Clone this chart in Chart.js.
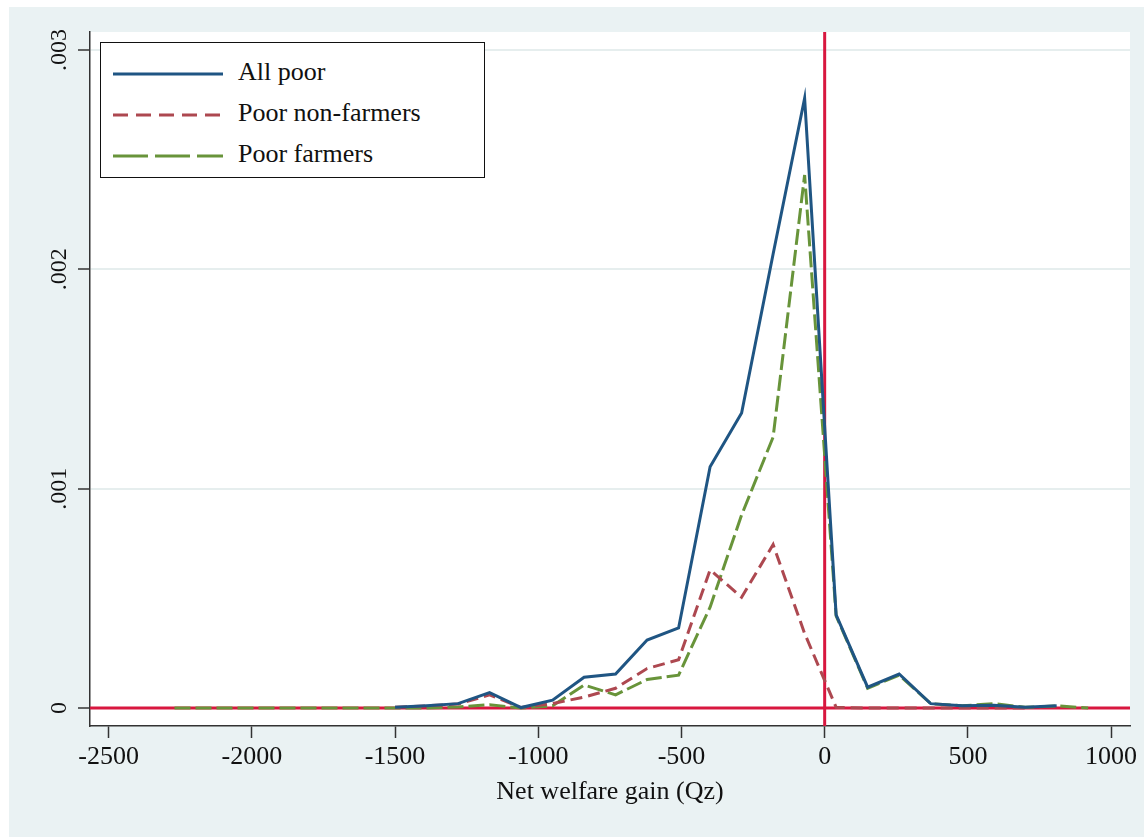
<!DOCTYPE html>
<html>
<head>
<meta charset="utf-8">
<script src="https://cdn.jsdelivr.net/npm/chart.js@4.4.1/dist/chart.umd.min.js"></script>
<style>
  html, body { margin: 0; padding: 0; background: #fff; }
  body { width: 1144px; height: 837px; position: relative; overflow: hidden;
         font-family: "Liberation Serif", "Times New Roman", serif; }
  #panel { position: absolute; left: 9px; top: 7px; width: 1135px; height: 830px; background: #eaf2f3; }
  #chart { position: absolute; left: 0; top: 0; }
  #legend { position: absolute; left: 100px; top: 42px; width: 385px; height: 136px;
            box-sizing: border-box; border: 1.5px solid #111; background: #fff; }
  .row { position: absolute; left: 0; height: 40px; width: 100%; }
  .row svg { position: absolute; left: 12px; top: 17px; }
  .row span { position: absolute; left: 137px; top: 3px; font-size: 26px; color: #111; line-height: 30px; white-space: nowrap; }
</style>
</head>
<body>
<div id="panel"></div>
<canvas id="chart" width="1144" height="837"></canvas>
<div id="legend"></div>
<script>
// kernel grid (Qz) and densities
const gridX = [-2270, -2160, -2050, -1940, -1830, -1720, -1610, -1500, -1390, -1280,
               -1170, -1060, -950, -840, -730, -620, -510, -400, -290, -180,
               -70, 40, 150, 260, 370, 480, 590, 700, 810, 920];

const allPoor = [null, null, null, null, null, null, null, 0.000003, 0.00001, 0.00002,
                 0.00007, 0.000002, 0.000036, 0.00014, 0.000155, 0.00031, 0.000365, 0.0011, 0.001345, 0.00207,
                 0.00278, 0.000425, 0.000095, 0.000155, 0.00002, 0.00001, 0.000013, 0.000003, 0.00001, null];

const poorNonFarmers = [null, null, null, null, null, null, null, 0.000003, 0.00001, 0.000018,
                        0.00006, 0.000002, 0.00002, 0.00005, 0.00009, 0.00018, 0.00022, 0.00063, 0.000505, 0.000745,
                        0.00034, 0.000003, 0, 0, 0, 0, 0, 0, null, null];

const poorFarmers = [0, 0, 0, 0, 0, 0, 0, 0, 0, 0.000005,
                     0.000015, 0, 0.00001, 0.000105, 0.00006, 0.00013, 0.00015, 0.00046, 0.00088, 0.001235,
                     0.00243, 0.00042, 0.00009, 0.00015, 0.00002, 0.00001, 0.00002, 0.000003, 0.00001, 0];

const seriesLabels = ['All poor', 'Poor non-farmers', 'Poor farmers'];

const xTicks = [-2500, -2000, -1500, -1000, -500, 0, 500, 1000];
const yTicks = [0, 0.001, 0.002, 0.003];
const yTickLabels = ['0', '.001', '.002', '.003'];
const xTitle = 'Net welfare gain (Qz)';

const xRefLines = [0];
const yRefLines = [0];

const xMin = -2565, xMax = 1066;
const yMin = -0.000082, yMax = 0.003082;

const serif = '"Liberation Serif", "Times New Roman", serif';

const series = [
  { label: seriesLabels[0], data: allPoor, color: '#1f5583', dash: [], keyDash: '' },
  { label: seriesLabels[1], data: poorNonFarmers, color: '#ad4850', dash: [12, 6], keyDash: '15 8' },
  { label: seriesLabels[2], data: poorFarmers, color: '#68943a', dash: [16, 5], keyDash: '35 7' }
];

// white plot region
const plotBg = {
  id: 'plotBg',
  beforeDraw(chart) {
    const a = chart.chartArea, c = chart.ctx;
    c.save();
    c.fillStyle = '#fff';
    c.fillRect(a.left, a.top, a.right - a.left, a.bottom - a.top);
    c.restore();
  }
};

// red xline / yline at zero
const refLines = {
  id: 'refLines',
  beforeDatasetsDraw(chart) {
    const a = chart.chartArea, c = chart.ctx;
    const sx = chart.scales.x, sy = chart.scales.y;
    c.save();
    c.strokeStyle = '#d8173f';
    c.lineWidth = 3;
    yRefLines.forEach(v => {
      const py = sy.getPixelForValue(v);
      c.beginPath(); c.moveTo(a.left, py); c.lineTo(a.right, py); c.stroke();
    });
    xRefLines.forEach(v => {
      const px = sx.getPixelForValue(v);
      c.beginPath(); c.moveTo(px, a.top); c.lineTo(px, a.bottom); c.stroke();
    });
    c.restore();
  }
};

new Chart(document.getElementById('chart'), {
  type: 'line',
  data: {
    datasets: series.map(s => ({
      label: s.label,
      data: gridX.map((x, i) => ({ x: x, y: s.data[i] })),
      borderColor: s.color,
      borderWidth: 3,
      borderDash: s.dash,
      pointRadius: 0,
      tension: 0,
      fill: false,
      spanGaps: false
    }))
  },
  options: {
    responsive: false,
    animation: false,
    layout: { padding: { left: 9, top: 32, right: 14, bottom: 0 } },
    plugins: { legend: { display: false }, tooltip: { enabled: false } },
    scales: {
      x: {
        type: 'linear',
        min: xMin,
        max: xMax,
        afterBuildTicks: s => { s.ticks = xTicks.map(v => ({ value: v })); },
        afterFit: s => { s.height = 111; },
        grid: { drawOnChartArea: false, drawTicks: true, tickLength: 12, tickColor: '#333', tickWidth: 1.5 },
        border: { display: true, color: '#333', width: 1.5 },
        ticks: {
          autoSkip: false, maxRotation: 0, padding: 4, color: '#111',
          font: { family: serif, size: 26 },
          callback: v => String(v)
        },
        title: {
          display: true, text: xTitle, color: '#111',
          font: { family: serif, size: 26 },
          padding: { top: 0, bottom: 29 }
        }
      },
      y: {
        type: 'linear',
        min: yMin,
        max: yMax,
        afterBuildTicks: s => { s.ticks = yTicks.map(v => ({ value: v })); },
        afterFit: s => { s.width = 81; },
        grid: { color: '#e6eeee', lineWidth: 2, tickLength: 12, tickColor: '#333', tickWidth: 1.5 },
        border: { display: true, color: '#333', width: 1.5 },
        ticks: {
          autoSkip: false, minRotation: 90, maxRotation: 90, crossAlign: 'center', padding: -3,
          color: '#111', font: { family: serif, size: 24 },
          callback: (v, i) => yTickLabels[i]
        }
      }
    }
  },
  plugins: [plotBg, refLines]
});

// legend box inside the plot, top left
const legend = document.getElementById('legend');
series.forEach((s, i) => {
  const row = document.createElement('div');
  row.className = 'row';
  row.style.top = (11 + i * 41) + 'px';
  row.innerHTML =
    '<svg width="110" height="6"><line x1="0" y1="3" x2="110" y2="3" stroke="' + s.color +
    '" stroke-width="3" stroke-dasharray="' + s.keyDash + '"/></svg><span>' + s.label + '</span>';
  legend.appendChild(row);
});
</script>
</body>
</html>
